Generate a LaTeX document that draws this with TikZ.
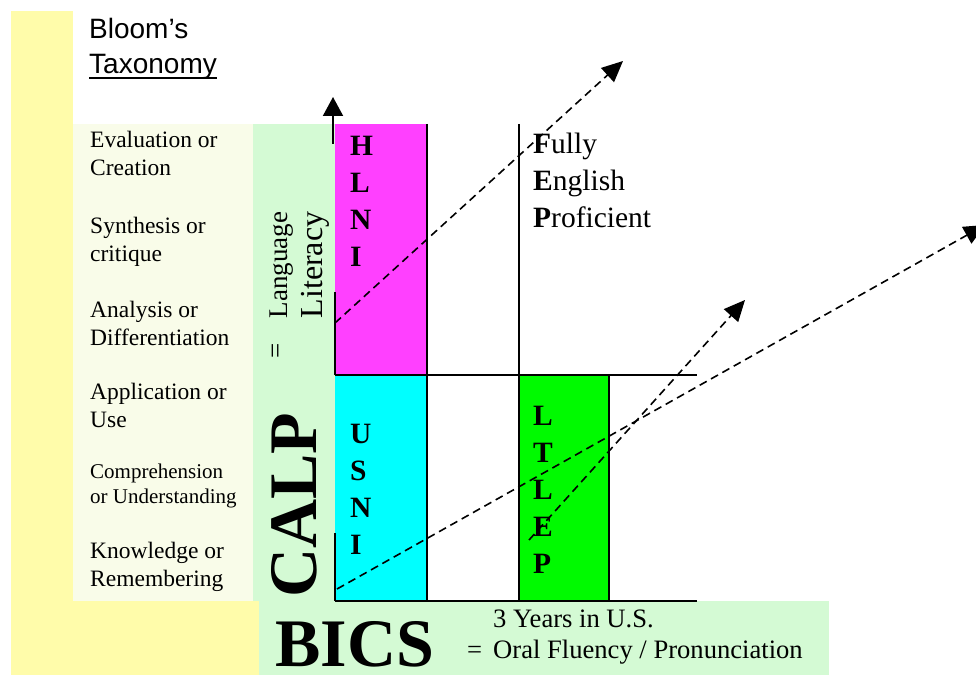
\documentclass[tikz,border=0pt]{standalone}
\usepackage{fontspec}
\setmainfont{Liberation Serif}
\newfontfamily\headfont{Liberation Sans}
\usetikzlibrary{arrows.meta}

\definecolor{bandyellow}{HTML}{FFFCAA}
\definecolor{panelcream}{HTML}{F9FCE9}
\definecolor{panelgreen}{HTML}{D4FAD4}
\definecolor{boxmagenta}{HTML}{FF40FF}
\definecolor{boxcyan}{HTML}{00FFFF}
\definecolor{boxgreen}{HTML}{00FA00}

% multi-line nodes below are placed by the baseline of their last line
\tikzset{
  level/.style={anchor=base west, inner sep=0pt, align=left,
    font=\fontsize{23.5}{28}\selectfont},
  levelsmall/.style={level, font=\fontsize{21}{25}\selectfont},
  letters/.style={anchor=base west, inner sep=0pt, align=left,
    font=\bfseries\fontsize{29.5}{37}\selectfont},
  axis/.style={line width=2pt},
  growth/.style={line width=1.6pt, dash pattern=on 8pt off 5pt,
    -{Triangle[length=21pt,width=19pt]}},
  vertical/.style={rotate=90, anchor=base, inner sep=0pt},
  bottomtext/.style={anchor=base west, inner sep=0pt,
    font=\fontsize{26.6}{30}\selectfont},
}

\begin{document}
\begin{tikzpicture}[x=1pt, y=-1pt]
  \useasboundingbox (0,0) rectangle (976,676);

  % background bands and panels
  \fill[bandyellow] (11,11) rectangle (73,675);
  \fill[bandyellow] (11,601) rectangle (259,675);
  \fill[panelcream] (73,124) rectangle (253,601);
  \fill[panelgreen] (253,124) rectangle (335,601);
  \fill[panelgreen] (259,601) rectangle (829,675);

  % coloured columns
  \fill[boxmagenta] (335,124) rectangle (427,375);
  \fill[boxcyan] (335,375) rectangle (427,601);
  \fill[boxgreen] (519,375) rectangle (609,601);

  % grid lines
  \draw[axis] (427,124) -- (427,601);
  \draw[axis] (519,124) -- (519,601);
  \draw[axis] (609,375) -- (609,601);
  \draw[axis] (335,375) -- (697,375);
  \draw[axis] (335,601) -- (697,601);
  \draw[axis] (335,292) -- (335,375);
  \draw[axis] (335,533) -- (335,601);

  % vertical axis arrow
  \coordinate (axbase) at (333,144);
  \coordinate (axtip) at (333,97);
  \draw[axis, -{Triangle[length=19pt,width=20pt]}] (axbase) -- (axtip);

  % heading
  \node[anchor=base west, inner sep=0pt, font=\headfont\fontsize{28}{32}\selectfont]
    (bloom) at (89,39) {Bloom’s};
  \node[anchor=base west, inner sep=0pt, font=\headfont\fontsize{28}{32}\selectfont]
    (taxo) at (89,74) {Taxonomy};
  \draw[line width=2pt] ([yshift=-4pt]taxo.base west) -- ([yshift=-4pt]taxo.base east);

  % taxonomy levels
  \node[level] (eval) at (90,176) {Evaluation or\\Creation};
  \node[level] (synth) at (90,261) {Synthesis or\\critique};
  \node[level] (anal) at (90,345) {Analysis or\\Differentiation};
  \node[level] (appl) at (90,427) {Application or\\Use};
  \node[levelsmall] (comp) at (90,503) {Comprehension\\or Understanding};
  \node[level] (know) at (90,586) {Knowledge or\\Remembering};

  % vertical labels
  \node[vertical, font=\fontsize{27}{32}\selectfont] (lang) at (287,265) {Language};
  \node[vertical, font=\fontsize{32}{36}\selectfont] (lit) at (322,265) {Literacy};
  \node[rotate=90, inner sep=0pt, font=\fontsize{27}{32}\selectfont] (eq1) at (278,351) {=};
  \node[vertical, font=\bfseries\fontsize{68}{70}\selectfont] (calp) at (316,505) {CALP};

  % bottom labels
  \node[anchor=base west, inner sep=0pt, font=\bfseries\fontsize{68}{70}\selectfont]
    (bics) at (275,666) {BICS};
  \node[bottomtext] (years) at (493,627) {3 Years in U.S.};
  \node[bottomtext] (eq2) at (467,658) {=};
  \node[bottomtext] (oral) at (493,658) {Oral Fluency / Pronunciation};

  % column letters
  \node[letters] (hlni) at (350,266) {H\\L\\N\\I};
  \node[letters] (usni) at (350,554) {U\\S\\N\\I};
  \node[letters] (ltlep) at (533,573) {L\\T\\L\\E\\P};
  \node[anchor=base west, inner sep=0pt, align=left, font=\fontsize{29.5}{37}\selectfont]
    (fep) at (533,228) {\textbf{F}ully\\\textbf{E}nglish\\\textbf{P}roficient};

  % growth paths
  \coordinate (g1s) at (335,323);
  \coordinate (g1e) at (623,61);
  \coordinate (g2s) at (337,589);
  \coordinate (g2e) at (985,225);
  \coordinate (g3s) at (529,540);
  \coordinate (g3e) at (745,300);
  \draw[growth] (g1s) -- (g1e);
  \draw[growth] (g2s) -- (g2e);
  \draw[growth] (g3s) -- (g3e);
\end{tikzpicture}
\end{document}
